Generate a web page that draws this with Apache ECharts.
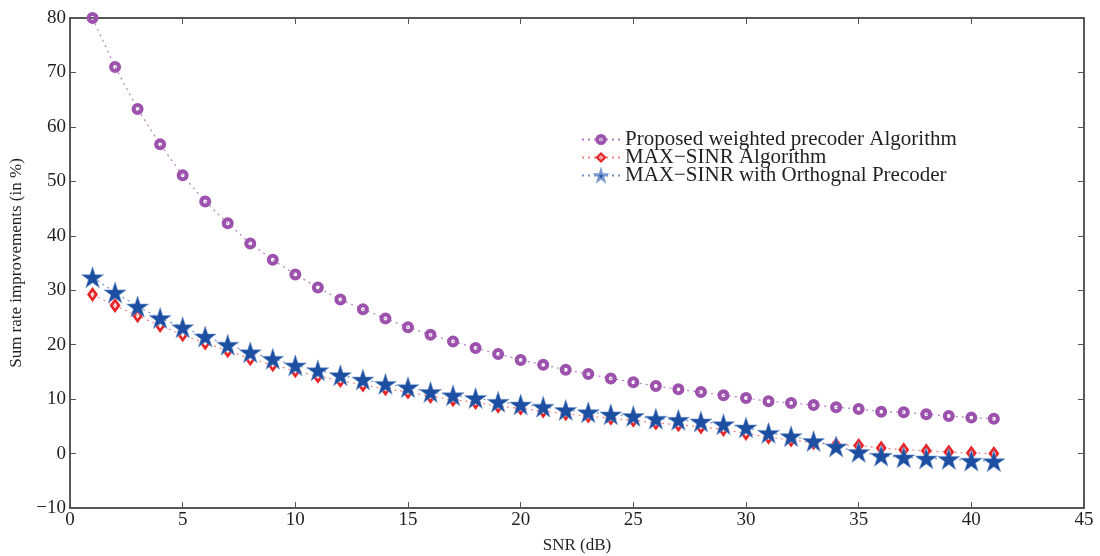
<!DOCTYPE html>
<html>
<head>
<meta charset="utf-8">
<script src="https://cdn.jsdelivr.net/npm/echarts@6/dist/echarts.min.js"></script>
<style>html,body{margin:0;padding:0;background:#fff}#c{width:1100px;height:556px}</style>
</head>
<body>
<div id="c"></div>
<script>
const snr = [1,2,3,4,5,6,7,8,9,10,11,12,13,14,15,16,17,18,19,20,21,22,23,24,25,26,27,28,29,30,31,32,33,34,35,36,37,38,39,40,41];
const proposed = [80,71,63.3,56.8,51.1,46.3,42.3,38.6,35.6,32.9,30.5,28.3,26.5,24.8,23.2,21.8,20.6,19.4,18.3,17.2,16.3,15.4,14.6,13.8,13.1,12.4,11.8,11.3,10.7,10.2,9.6,9.3,8.9,8.5,8.2,7.7,7.6,7.2,6.9,6.6,6.4];
const maxSinr = [29.2,27.2,25.3,23.5,21.8,20.3,18.9,17.4,16.3,15.2,14.2,13.4,12.6,11.9,11.3,10.5,9.9,9.4,8.7,8.3,7.8,7.3,6.9,6.5,6.1,5.6,5.3,4.9,4.4,3.7,3.0,2.5,2.0,1.6,1.5,1.0,0.7,0.5,0.3,0.1,0.0];
const maxSinrOrth = [32.4,29.6,27.0,24.9,23.2,21.5,20.0,18.6,17.4,16.2,15.3,14.4,13.6,12.8,12.2,11.3,10.7,10.2,9.5,9.0,8.6,8.0,7.6,7.2,6.9,6.4,6.2,5.9,5.4,4.8,3.8,3.2,2.3,1.3,0.3,-0.4,-0.7,-0.9,-1.0,-1.3,-1.4];
const seriesNames = ['Proposed weighted precoder Algorithm','MAX\u2212SINR Algorithm','MAX\u2212SINR with Orthognal Precoder'];
const xTicks = {min:0, max:45, interval:5};
const yTicks = {min:-10, max:80, interval:10};

const pair = (ys) => snr.map((x,i)=>[x, ys[i]]);
const font = 'Liberation Serif';
const starPath = 'path://M50 0 L61.23 34.55 L97.55 34.55 L68.17 55.9 L79.39 90.45 L50 69.1 L20.61 90.45 L31.83 55.9 L2.45 34.55 L38.77 34.55 Z';
const ringPath = 'path://M50 0 A50 50 0 1 1 50 100 A50 50 0 1 1 50 0 Z M50 34 A16 16 0 1 0 50 66 A16 16 0 1 0 50 34 Z';
const diamondPath = 'path://M50 0 L100 50 L50 100 L0 50 Z M50 31 L31 50 L50 69 L69 50 Z';
const fmt = v => String(v).replace('-', '\u2212');
const axisLine = {show:true, onZero:false, lineStyle:{color:'#222', width:1.5}};
const tick = {show:true, inside:true, length:6, lineStyle:{color:'#555', width:1}};
const textCol = '#231f20';

const chart = echarts.init(document.getElementById('c'), null, {renderer:'canvas'});
chart.setOption({
  animation:false,
  backgroundColor:'#fff',
  grid:{left:70, right:16, top:18, bottom:48, containLabel:false, outerBoundsMode:'none'},
  legend:{
    left:576, top:124, orient:'vertical', itemGap:-3, itemWidth:38, itemHeight:14,
    textStyle:{fontFamily:font, fontSize:21, color:textCol, lineHeight:18},
    data:seriesNames
  },
  xAxis:[
    {type:'value', position:'bottom', min:xTicks.min, max:xTicks.max, interval:xTicks.interval,
     axisLine:axisLine, axisTick:tick, splitLine:{show:false},
     axisLabel:{fontFamily:font, fontSize:19, color:textCol, margin:3},
     name:'SNR (dB)', nameLocation:'middle', nameGap:29,
     nameTextStyle:{fontFamily:font, fontSize:17, color:textCol}},
    {type:'value', position:'top', min:xTicks.min, max:xTicks.max, interval:xTicks.interval,
     axisLine:axisLine, axisTick:tick, splitLine:{show:false}, axisLabel:{show:false}}
  ],
  yAxis:[
    {type:'value', position:'left', min:yTicks.min, max:yTicks.max, interval:yTicks.interval,
     axisLine:axisLine, axisTick:tick, splitLine:{show:false},
     axisLabel:{fontFamily:font, fontSize:19, color:textCol, margin:4, formatter:fmt},
     name:'Sum rate improvements (in %)', nameLocation:'middle', nameGap:44, nameRotate:90,
     nameTextStyle:{fontFamily:font, fontSize:17, color:textCol}},
    {type:'value', position:'right', min:yTicks.min, max:yTicks.max, interval:yTicks.interval,
     axisLine:axisLine, axisTick:tick, splitLine:{show:false}, axisLabel:{show:false}}
  ],
  series:[
    {name:seriesNames[0], type:'line', data:pair(proposed), symbol:ringPath, symbolSize:12,
     itemStyle:{color:'#9C52AD'},
     lineStyle:{color:'#B57FC4', width:1.2, type:[2,4]}, z:2},
    {name:seriesNames[1], type:'line', data:pair(maxSinr), symbol:diamondPath, symbolSize:[11,15],
     itemStyle:{color:'#E8262A'},
     lineStyle:{color:'#F08080', width:1.2, type:[2,4]}, z:3},
    {name:seriesNames[2], type:'line', data:pair(maxSinrOrth), symbol:starPath, symbolSize:[22,21],
     itemStyle:{color:'#1C4FA1', borderColor:'#7B9ACF', borderWidth:0.6},
     lineStyle:{color:'#6F8FC8', width:1.2, type:[2,4]}, z:4}
  ]
});
</script>
</body>
</html>
